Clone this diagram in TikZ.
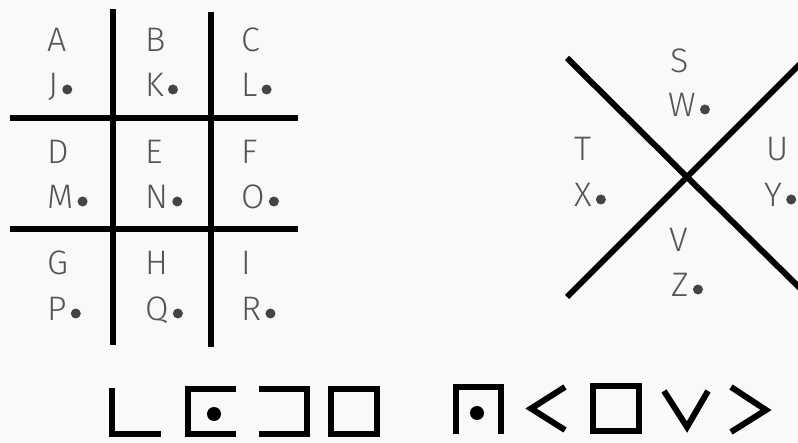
\documentclass[tikz,border=0pt]{standalone}
\usepackage{fontspec}
\setmainfont{Fira Sans Light}
\usetikzlibrary{calc}
\definecolor{bg}{HTML}{F8F9FA}
\definecolor{txt}{HTML}{555555}
\definecolor{dotc}{HTML}{444444}
\begin{document}
\begin{tikzpicture}[x=1pt,y=-1pt,
  lt/.style={font=\fontsize{34}{34}\selectfont, text=txt, inner sep=0pt, anchor=base west},
  pdot/.style={circle, fill=dotc, inner sep=0pt, minimum size=10pt},
  bdot/.style={circle, fill=black, inner sep=0pt, minimum size=14pt},
  gridline/.style={line width=6pt, black},
  xline/.style={line width=6pt, black},
  glyph/.style={line width=6pt, black, miter limit=10}]
\fill[bg] (0,0) rectangle (798,443);
\useasboundingbox (0,0) rectangle (798,443);
% grid
\draw[gridline] (112.5,9) -- (112.5,345);
\draw[gridline] (211,12) -- (211,347);
\draw[gridline] (10,118) -- (298,118);
\draw[gridline] (10,229) -- (298,229);
% grid letters
\node[lt] (A) at (47,52) {A};
\node[lt] (B) at (145,52) {B};
\node[lt] (C) at (241,52) {C};
\node[lt] (D) at (47,164) {D};
\node[lt] (E) at (145,164) {E};
\node[lt] (F) at (241,164) {F};
\node[lt] (G) at (47,275) {G};
\node[lt] (H) at (145,275) {H};
\node[lt] (I) at (241,275) {I};
\node[lt] (J) at (48,97) {J};
\node[lt] (K) at (145,97) {K};
\node[lt] (L) at (241,97) {L};
\node[lt] (M) at (47,209) {M};
\node[lt] (N) at (145,209) {N};
\node[lt] (O) at (241,209) {O};
\node[lt] (P) at (47,321) {P};
\node[lt] (Q) at (145,321) {Q};
\node[lt] (R) at (241,321) {R};
\foreach \l in {J,K,L,M,N,O,P,Q,R}
  \node[pdot] (d\l) at ($(\l.base east)+(9,-7.5)$) {};
% X figure
\coordinate (xc) at (687,177);
\coordinate (xtl) at (567,58);
\coordinate (xbr) at (810,298);
\coordinate (xbl) at (567,297);
\coordinate (xtr) at (810,54);
\draw[xline] (xtl) -- (xc) -- (xbr);
\draw[xline] (xbl) -- (xc) -- (xtr);
\node[lt] (S) at (670,73) {S};
\node[lt] (W) at (668,117) {W};
\node[lt] (T) at (574,161) {T};
\node[lt] (X) at (574,207) {X};
\node[lt] (U) at (766,161) {U};
\node[lt] (Y) at (764,207) {Y};
\node[lt] (V) at (669,252) {V};
\node[lt] (Z) at (671,297) {Z};
\foreach \l in {W,X,Y,Z}
  \node[pdot] (d\l) at ($(\l.base east)+(9,-7.5)$) {};
% bottom glyphs
\draw[glyph] (112,388) -- (112,434) -- (161,434);
\draw[glyph] (236,389) -- (188,389) -- (188,434) -- (236,434);
\node[bdot] (g2) at (214,414) {};
\draw[glyph] (259,389) -- (307,389) -- (307,434) -- (259,434);
\draw[glyph] (331,389) rectangle (377,434);
\draw[glyph] (456,434) -- (456,387) -- (501,387) -- (501,434);
\node[bdot] (g5) at (477,413) {};
\draw[glyph] (565,387) -- (531,408.5) -- (565,430);
\draw[glyph] (593,386) rectangle (639,431);
\draw[glyph] (664,391) -- (687,427) -- (708,391);
\draw[glyph] (731,387) -- (766,410) -- (731,432);
\end{tikzpicture}
\end{document}
